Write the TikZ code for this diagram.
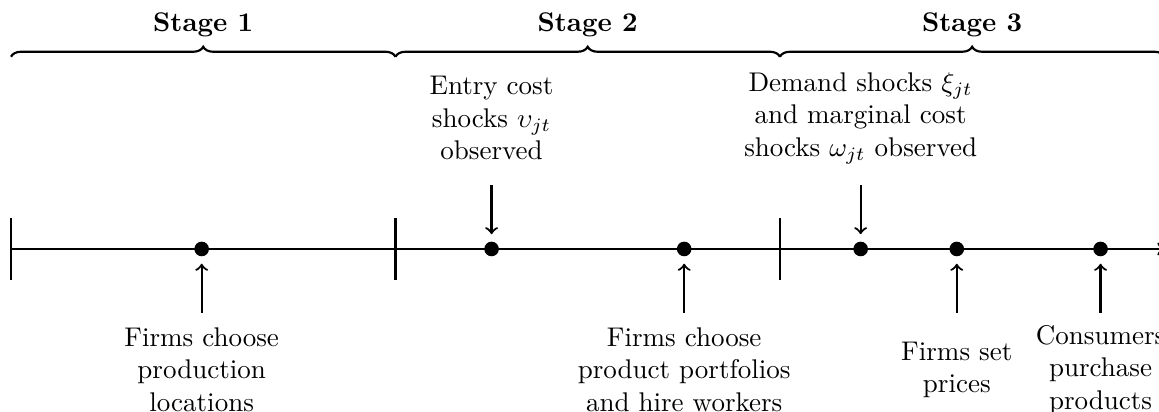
\documentclass[tikz,border=0pt]{standalone}
\usetikzlibrary{decorations.pathreplacing}
\begin{document}
\begin{tikzpicture}[
  axisline/.style={line width=0.8pt},
  evdot/.style={circle,fill=black,inner sep=0pt,minimum size=0.19cm},
  evarrow/.style={->,line width=0.8pt,shorten >=0.09cm},
  lbl/.style={align=center,inner sep=0pt},
  stagebrace/.style={decorate,decoration={brace,amplitude=3.7pt},line width=0.8pt},
  stagelbl/.style={font=\bfseries,anchor=base}
]
\useasboundingbox (-0.143,-2.12) rectangle (14.93,3.238);
\clip (-0.143,-2.12) rectangle (14.93,3.238);

% axis
\coordinate (A0) at (0,0);
\coordinate (A1) at (15,0);
\draw[axisline,->] (A0) -- (A1);
\foreach \x in {0,5,10} \draw[axisline] (\x,0.4) -- (\x,-0.4);

% braces and stage labels
\draw[stagebrace] (0,2.5) -- (5,2.5);
\draw[stagebrace] (5,2.5) -- (10,2.5);
\draw[stagebrace] (10,2.5) -- (15,2.5);
\node[stagelbl] (S1) at (2.5,2.83) {Stage 1};
\node[stagelbl] (S2) at (7.5,2.83) {Stage 2};
\node[stagelbl] (S3) at (12.5,2.83) {Stage 3};

% dots
\node[evdot] (d1) at (2.48,0) {};
\node[evdot] (d2) at (6.25,0) {};
\node[evdot] (d3) at (8.755,0) {};
\node[evdot] (d4) at (11.05,0) {};
\node[evdot] (d5) at (12.3,0) {};
\node[evdot] (d6) at (14.17,0) {};

% arrow tails
\coordinate (u1) at (2.48,-0.83);
\coordinate (t2) at (6.25,0.83);
\coordinate (u3) at (8.755,-0.83);
\coordinate (t4) at (11.05,0.83);
\coordinate (u5) at (12.3,-0.83);
\coordinate (u6) at (14.17,-0.83);

\draw[evarrow] (u1) -- (d1);
\draw[evarrow] (t2) -- (d2);
\draw[evarrow] (u3) -- (d3);
\draw[evarrow] (t4) -- (d4);
\draw[evarrow] (u5) -- (d5);
\draw[evarrow] (u6) -- (d6);

% labels
\node[lbl] (L1) at (2.48,-1.57) {Firms choose\\production\\locations};
\node[lbl] (L2) at (6.25,1.70) {Entry cost\\shocks $\upsilon_{jt}$\\observed};
\node[lbl] (L3) at (8.755,-1.57) {Firms choose\\product portfolios\\and hire workers};
\node[lbl] (L4) at (11.05,1.70) {Demand shocks $\xi_{jt}$\\and marginal cost\\shocks $\omega_{jt}$ observed};
\node[lbl] (L5) at (12.3,-1.57) {Firms set\\prices};
\node[lbl] (L6) at (14.17,-1.57) {Consumers\\purchase\\products};
\end{tikzpicture}
\end{document}
